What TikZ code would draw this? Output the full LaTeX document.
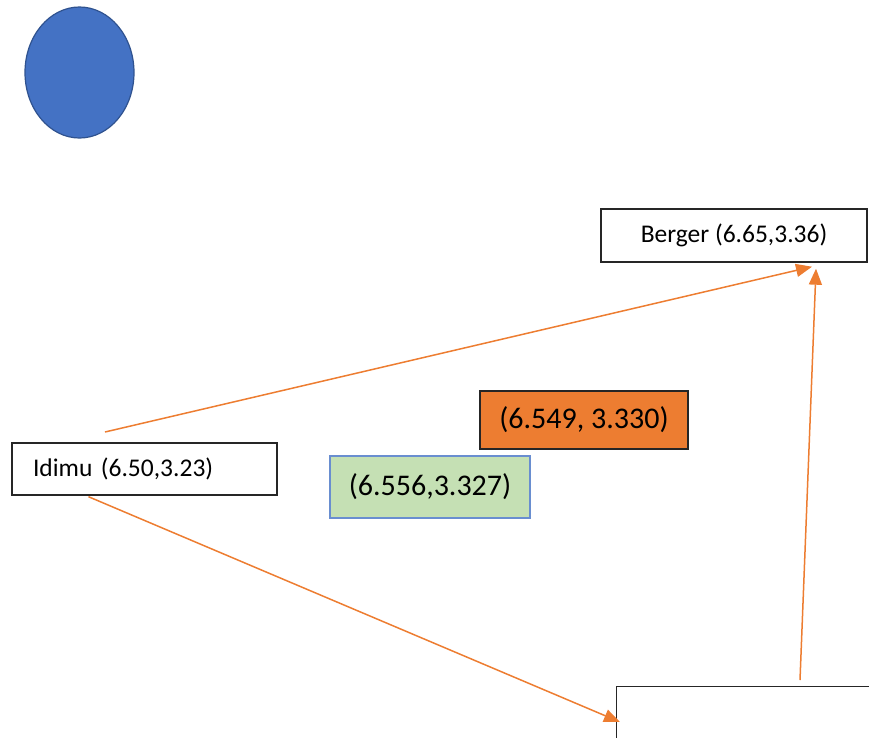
\documentclass[tikz,border=0pt]{standalone}
\usepackage{fontspec}
\setmainfont{Carlito}
\usetikzlibrary{arrows.meta,shapes.geometric,calc}

\definecolor{accorange}{HTML}{ED7D31}
\definecolor{accblue}{HTML}{4472C4}
\definecolor{darkblue}{HTML}{2F528F}
\definecolor{lightgreen}{HTML}{C5E0B4}
\definecolor{boxline}{HTML}{262626}

\tikzset{
    site/.style={draw=boxline,line width=1.4pt,inner sep=0pt,font=\fontsize{25.5}{30}\selectfont},
    result/.style={draw=boxline,line width=1.4pt,inner sep=0pt,font=\fontsize{30}{36}\selectfont},
    link/.style={draw=accorange,line width=1.5pt,-{Triangle[length=16pt,width=13pt]}}
}

\begin{document}
\begin{tikzpicture}[x=1pt,y=-1pt]
        \useasboundingbox (0,0) rectangle (869,737);
        \clip (0,0) rectangle (869,737);

        \node[ellipse,fill=accblue,draw=darkblue,line width=1.2pt,minimum width=109,minimum height=131,inner sep=0pt] (sun) at (79.5,72.5){};

        \node[site,minimum width=266,minimum height=53] (berger) at (734,235.5){Berger (6.65,3.36)};
        \node[site,minimum height=52,text width=223,inner xsep=21pt,align=left] (idimu) at (144.5,469){Idimu (6.50,3.23)};
        % \node[site] (lower) ... no label on this one
        \node[site,minimum width=300,minimum height=120,anchor=north west] (lower) at (616,686){};

        \node[result,fill=accorange,minimum width=208,minimum height=58] (est1) at (584,420){(6.549, 3.330)};
        \node[result,fill=lightgreen,draw=accblue!80,minimum width=200,minimum height=62] (est2) at (430,487){(6.556,3.327)};

        \coordinate (idtop) at (105,432);
        \draw[link] (idtop) -- ($(berger.south)+(78,4)$);
        \draw[link] ($(lower.north west)+(184,-6)$) -- ($(berger.south)+(82,6)$);
        \draw[link] ($(idimu.south)+(-56,1)$) -- ($(lower.north west)+(4,36)$);
    \end{tikzpicture}
\end{document}
